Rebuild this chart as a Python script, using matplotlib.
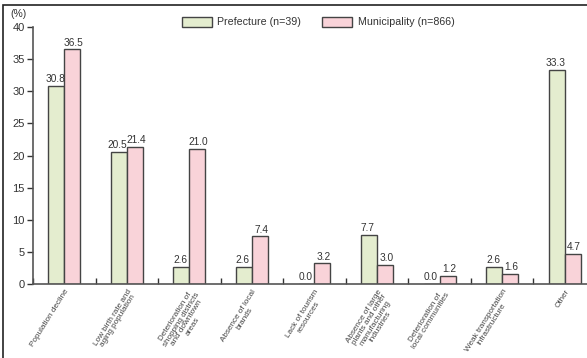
import matplotlib
matplotlib.use("Agg")
import matplotlib.pyplot as plt
import numpy as np
from matplotlib.patches import Rectangle

categories = [
    "Population decline",
    "Low birth rate and\naging population",
    "Deterioration of\nshopping districts\nand downtown\nareas",
    "Absence of local\nbrands",
    "Lack of tourism\nresources",
    "Absence of large\nplants and other\nmanufacturing\nindustries",
    "Deterioration of\nlocal communities",
    "Weak transportation\ninfrastructure",
    "Other",
]
prefecture = [30.8, 20.5, 2.6, 2.6, 0.0, 7.7, 0.0, 2.6, 33.3]
municipality = [36.5, 21.4, 21.0, 7.4, 3.2, 3.0, 1.2, 1.6, 4.7]
yticks = [0, 5, 10, 15, 20, 25, 30, 35, 40]
series_names = ["Prefecture (n=39)", "Municipality (n=866)"]

plt.rcParams['font.family'] = ['Liberation Sans', 'DejaVu Sans']

W, H = 587, 358
fig = plt.figure(figsize=(W / 100, H / 100), dpi=100)
ax = fig.add_axes([33 / W, 1 - 284 / H, (596 - 33) / W, (284 - 27) / H])

x = np.arange(len(categories))
bw = 0.255
green = "#E4EDCF"
pink = "#F9D3D9"
edge = "#444444"
ax.bar(x - bw / 2, prefecture, bw, color=green, edgecolor=edge, linewidth=1.0, label=series_names[0])
ax.bar(x + bw / 2, municipality, bw, color=pink, edgecolor=edge, linewidth=1.0, label=series_names[1])

for xi, v in zip(x - bw / 2, prefecture):
    ax.text(xi - 0.02, v + 0.3, f"{v:.1f}", ha="center", va="bottom", fontsize=7.3, color="#333333")
for xi, v in zip(x + bw / 2, municipality):
    ax.text(xi + 0.02, v + 0.3, f"{v:.1f}", ha="center", va="bottom", fontsize=7.3, color="#333333")

ax.set_xlim(-0.5, len(categories) - 0.5)
ax.set_ylim(0, 40)
ax.set_yticks(yticks)
ax.set_yticklabels([str(t) for t in yticks], fontsize=8, color="#333333")
ax.tick_params(axis="y", direction="out", length=4, width=1, pad=2, colors="#333333", labelcolor="#333333")

ax.set_xticks(np.arange(len(categories) + 1) - 0.5)
ax.set_xticklabels([])
ax.tick_params(axis="x", which="major", direction="in", length=4, width=1, color="#333333")
ax.set_xticks(x, minor=True)
ax.set_xticklabels(categories, minor=True, fontsize=5.9, color="#444444",
                   rotation=58, ha="right", va="top", rotation_mode="anchor",
                   multialignment="center", linespacing=0.9)
ax.tick_params(axis="x", which="minor", length=0, pad=3)

for s in ["top", "right"]:
    ax.spines[s].set_visible(False)
for s in ["left", "bottom"]:
    ax.spines[s].set_color("#555555")
    ax.spines[s].set_linewidth(1.2)

leg = ax.legend(loc="center", bbox_to_anchor=(318 / W, 1 - 22 / H), bbox_transform=fig.transFigure,
                ncol=2, frameon=False, fontsize=7.7, handlelength=2.8, handleheight=1.1,
                columnspacing=2.0, handletextpad=0.5)
for t in leg.get_texts():
    t.set_color("#333333")

fig.text(10 / W, 1 - 14 / H, "(%)", fontsize=7.5, color="#333333", ha="left", va="center")

# outer frame (top & left visible)
fig.add_artist(Rectangle((3 / W, -0.1), 1.2, 1.1 - 5 / H, transform=fig.transFigure,
                         fill=False, edgecolor="#222222", linewidth=1.2, clip_on=False))

fig.savefig("out.png", dpi=100)
